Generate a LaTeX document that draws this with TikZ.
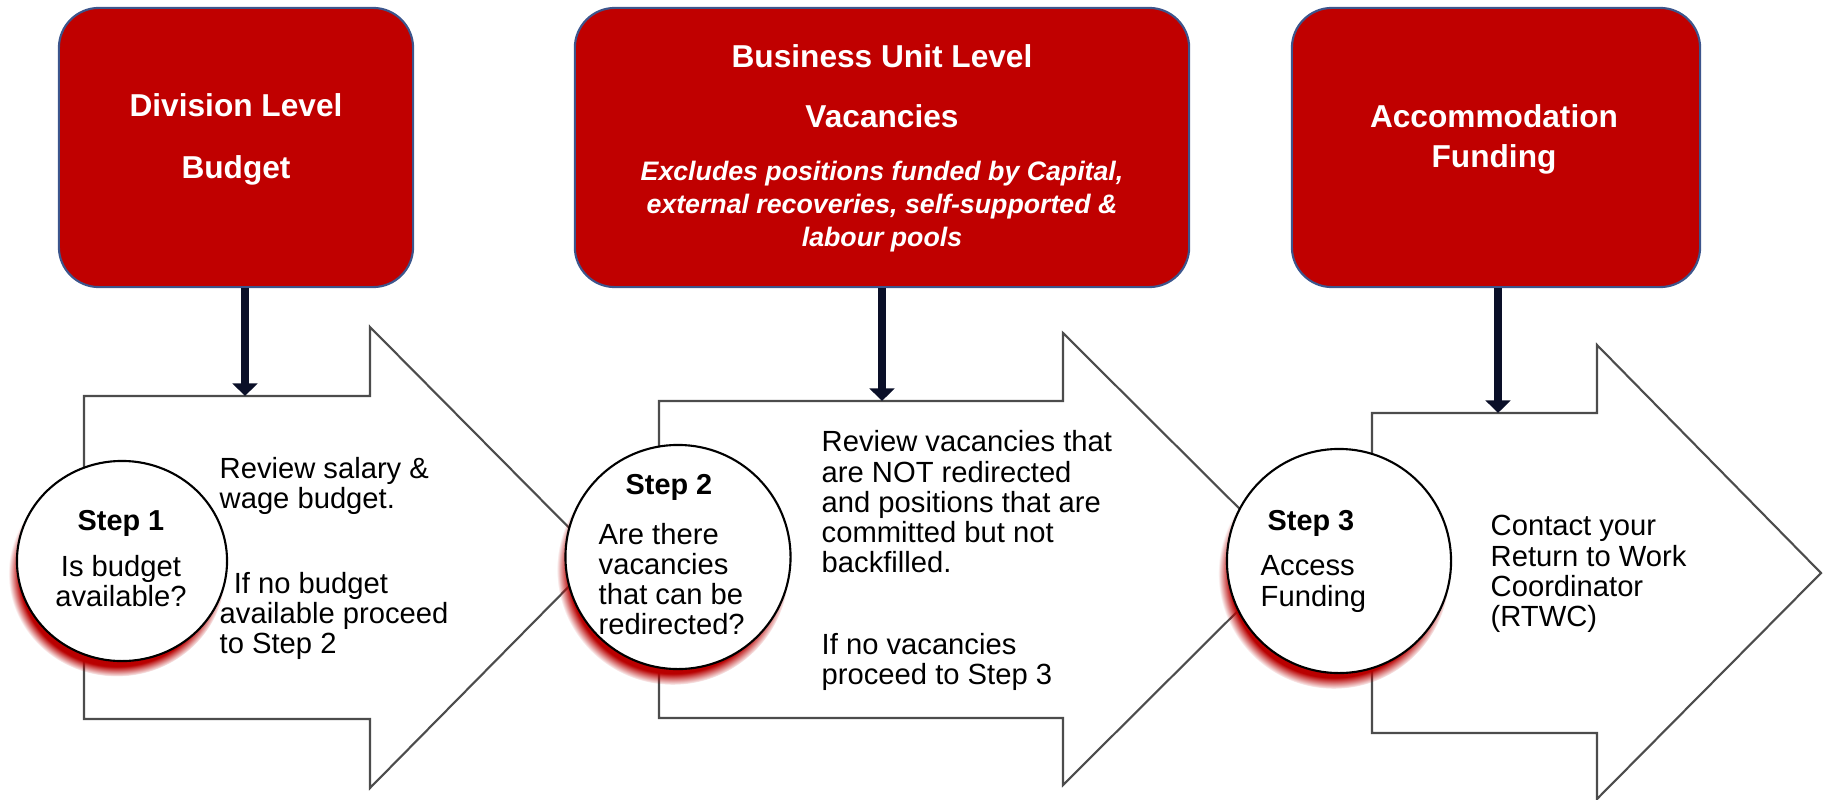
\documentclass[tikz,border=0pt]{standalone}
\usepackage{fontspec}
\setmainfont{Liberation Sans}
\usetikzlibrary{arrows.meta,shapes.geometric,shadows,fadings}
\definecolor{lvlred}{RGB}{192,0,0}
\definecolor{lvledge}{RGB}{60,85,140}
\definecolor{navy}{RGB}{10,15,40}
\definecolor{shadowred}{RGB}{185,0,0}

\begin{document}
\begin{tikzpicture}[x=0.01cm, y=-0.01cm,
		lvl/.style={draw=lvledge, fill=lvlred, rounded corners=0.4cm, line width=0.6pt},
		ttl/.style={text=white, font=\fontsize{9}{#1}\selectfont\bfseries, align=center, inner sep=0pt},
		sub/.style={text=white, font=\fontsize{7.6}{9.4}\selectfont\bfseries\itshape, align=center, inner sep=0pt},
		shaft/.style={draw=black!70, line width=0.6pt, fill=white},
		stepcirc/.style={ellipse, draw=black, line width=0.6pt, fill=white, inner sep=0pt,
			circular drop shadow={shadow scale=1.03, shadow xshift=-0.05cm, shadow yshift=-0.12cm, fill=shadowred,
				path fading={circle with fuzzy edge 10 percent}}},
		stephd/.style={font=\fontsize{8.2}{8.6}\selectfont\bfseries, inner sep=0pt},
		txt/.style={font=\fontsize{8.3}{8.6}\selectfont, align=left, inner sep=0pt, anchor=west},
		feed/.style={-{Triangle[width=7pt,length=3.6pt]}, line width=2.4pt, draw=navy}]
		\useasboundingbox (0,0) rectangle (1824,800);

		\node[lvl, minimum width=3.54cm, minimum height=2.79cm] (div) at (236,147.5) { };
		\node[lvl, minimum width=6.14cm, minimum height=2.79cm] (bu) at (882,147.5) { };
		\node[lvl, minimum width=4.08cm, minimum height=2.79cm] (acc) at (1496,147.5) { };
		\node[ttl=17.6pt] (divttl) at (236,139) {Division Level\\Budget};
		\node[ttl=17pt] (buttl) at (882,86) {Business Unit Level\\Vacancies};
		\node[sub] (busub) at (882,207) {Excludes positions funded by Capital,\\external recoveries, self-supported \&\\labour pools};
		\node[ttl=11.4pt] (accttl) at (1494,139) {Accommodation\\Funding};

		\draw[shaft] (84,396) -- (370,396) -- (370,327) -- (598,557) -- (370,788) -- (370,719) -- (84,719) -- cycle;
		\draw[shaft] (659,401) -- (1063,401) -- (1063,333) -- (1290,559) -- (1063,785) -- (1063,718) -- (659,718) -- cycle;
		\draw[shaft] (1372,413) -- (1597,413) -- (1597,345) -- (1821,573) -- (1597,799) -- (1597,733) -- (1372,733) -- cycle;

		\coordinate (in1) at (245,396);
		\coordinate (in2) at (882,401);
		\coordinate (in3) at (1498,413);
		\draw[feed] (div.south -| in1) -- (in1);
		\draw[feed] (bu.south -| in2) -- (in2);
		\draw[feed] (acc.south -| in3) -- (in3);

		\node[stepcirc, minimum width=2.1cm, minimum height=2cm] (c1) at (122,561) { };
		\node[stepcirc, minimum width=2.25cm, minimum height=2.24cm] (c2) at (678,557) { };
		\node[stepcirc, minimum width=2.24cm, minimum height=2.24cm] (c3) at (1339,561) { };

		\node[stephd] (s1hd) at (121,523) {Step 1};
		\node[txt, align=center, anchor=center] (s1q) at (121,581) {Is budget\\available?};
		\node[stephd] (s2hd) at (669,487) {Step 2};
		\node[txt] (s2q) at (598,579) {Are there\\vacancies\\that can be\\redirected?};
		\node[stephd] (s3hd) at (1311,523) {Step 3};
		\node[txt] (s3q) at (1260,584) {Access\\Funding};

		\node[txt] (t1a) at (219,486) {Review salary \&\\wage budget.};
		\node[txt] (t1b) at (219,616) {\hspace*{4pt}If no budget\\available proceed\\to Step 2};
		\node[txt] (t2a) at (821,502) {Review vacancies that\\are NOT redirected\\and positions that are\\committed but not\\backfilled.};
		\node[txt] (t2b) at (821,662) {If no vacancies\\proceed to Step 3};
		\node[txt] (t3) at (1490,574) {Contact your\\Return to Work\\Coordinator\\(RTWC)};
\end{tikzpicture}
\end{document}
